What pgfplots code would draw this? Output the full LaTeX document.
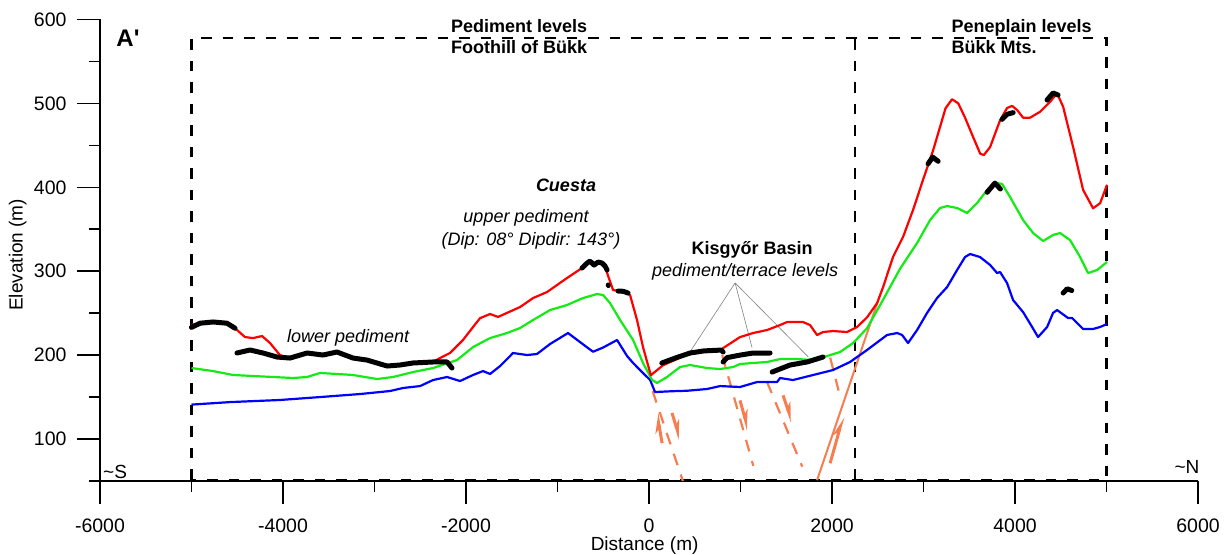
\documentclass[border=0pt]{standalone}
\usepackage{fontspec}
\setmainfont{Liberation Sans}
\usepackage{pgfplots}
\pgfplotsset{compat=1.18}
\usetikzlibrary{arrows.meta}
\definecolor{cred}{RGB}{255,0,0}
\definecolor{cgreen}{RGB}{20,235,20}
\definecolor{cblue}{RGB}{0,0,255}
\definecolor{fault}{RGB}{247,125,80}
\begin{document}
\begin{tikzpicture}
\begin{axis}[
 name=ax, scale only axis, width=1098pt, height=461.5pt,
 xmin=-6000, xmax=6000, ymin=50, ymax=600, clip=false,
 axis x line=bottom, axis y line=left, axis line style={-, line width=1.6pt},
 xtick={-6000,-4000,...,6000}, minor xtick={-5000,-3000,...,5000},
 ytick={100,200,...,600}, minor ytick={50,150,...,550},
 tick align=outside, major tick length=23pt, minor tick length=11pt,
 every tick/.style={black, line width=1.6pt},
 tick label style={font=\fontsize{19.5}{22}\selectfont},
 xticklabel style={yshift=-11pt},
 yticklabel style={xshift=-7pt},
 /pgf/number format/1000 sep={}, /pgf/number format/assume math mode=true,
 xlabel={Distance (m)}, ylabel={Elevation (m)},
 label style={font=\fontsize{19}{22}\selectfont},
 xlabel style={at={(axis description cs:0.496,-0.139)}, anchor=center},
 ylabel style={at={(axis description cs:-0.075,0.49)}, anchor=center},
 black marks/.style={black, line width=5pt, line cap=round, line join=round},
 curve/.style={line width=2.2pt, line join=round},
 boxline/.style={black, line width=2.2pt, dash pattern=on 10.5pt off 11pt},
 faultd/.style={fault, line width=2.2pt, dash pattern=on 12pt off 10pt},
 farrow/.style={fault, line width=3pt, -{Stealth[left, length=16pt, width=10pt]}},
]
% dashed frames
\addplot[boxline] coordinates {(-5000,51.5) (-5000,578) (5000,578) (5000,51.5) (-5000,51.5)};
\addplot[boxline] coordinates {(2250,51.5) (2250,578)};

% annotation lines
\addplot[gray, line width=0.6pt] coordinates {(941,286) (449,204)};
\addplot[gray, line width=0.6pt] coordinates {(941,286) (1126,209)};
\addplot[gray, line width=0.6pt] coordinates {(941,286) (1739,198)};

% faults
\addplot[faultd] coordinates {(40,157) (370,50)};
\addplot[faultd] coordinates {(800,200) (1140,68)};
\addplot[faultd] coordinates {(1290,168) (1675,67)};
\addplot[faultd] coordinates {(1980,197) (2090,150)};
\addplot[fault, line width=2pt] coordinates {(1837,51) (2504,265)};
\addplot[farrow] coordinates {(143,95) (88,131)};
\addplot[farrow] coordinates {(252,131) (339,99)};
\addplot[farrow] coordinates {(995,146) (1083,111)};
\addplot[farrow] coordinates {(1465,152) (1564,120)};
\addplot[farrow] coordinates {(1979,71) (2121,126)};

% blue
\addplot[curve, cblue] coordinates {
(-5000,141) (-4579,144) (-4033,146.5) (-3595,150) (-3158,153.6) (-2830,157.2) (-2688,160.8)
(-2502,163.1) (-2360,170.3) (-2207,173.9) (-2065,169.1) (-1923,176.3) (-1814,181) (-1737,177.5)
(-1628,186.9) (-1486,202.5) (-1333,200.1) (-1224,201.3) (-1082,213.2) (-885,226.3) (-754,215.6)
(-612,204) (-502,209) (-349,218) (-240,199) (-174,190.6) (-60,178) (12,170.4) (66,156) (263,157)
(416,157.5) (634,159.6) (777,163.1) (995,162) (1181,167.9) (1400,167.9) (1432,172.7) (1574,170.3)
(1793,176.3) (2011,182.2) (2197,191.8) (2383,206.1) (2602,224) (2712,226.3) (2766,224) (2831,214.4)
(2930,229.9) (3039,250.3) (3148,268) (3258,281.1) (3367,301.4) (3454,316.9) (3509,320.5) (3618,316.9)
(3728,307.4) (3804,297.8) (3837,299) (3913,285.9) (3979,265.6) (4088,251.3) (4187,233.5) (4252,221.5)
(4351,233.5) (4416,250.3) (4460,253.7) (4580,244.2) (4624,244.2) (4744,231.1) (4853,231.1)
(4930,233.5) (5006,237.1)};

% green
\addplot[curve, cgreen] coordinates {
(-5000,184.6) (-4765,181) (-4546,176.3) (-4328,175.1) (-4109,173.9) (-3890,172.7) (-3737,173.9)
(-3595,178.7) (-3410,177.5) (-3235,176.3) (-2972,171.5) (-2798,173.9) (-2579,179.8) (-2360,184.6)
(-2098,194.1) (-1923,209.6) (-1737,220.3) (-1552,226.3) (-1409,232.3) (-1267,241.8) (-1082,253.7)
(-896,259.7) (-721,268) (-568,272.8) (-502,271.6) (-426,262.1) (-316,241.8) (-174,218) (-65,190.6)
(33,170.4) (88,166.8) (197,173.9) (339,185.8) (449,188.2) (634,184.6) (777,183.4) (919,185.8)
(995,189.4) (1137,190.6) (1290,191.8) (1432,195.3) (1618,195.3) (1793,194.1) (1946,198.9)
(2088,203.7) (2230,214.4) (2383,232) (2558,266) (2744,303) (2930,333.6) (3072,361) (3181,375.3)
(3258,377.7) (3367,375.3) (3476,369.4) (3586,381.3) (3695,396.8) (3804,405.2) (3859,404)
(3946,388.5) (4088,361) (4198,345.5) (4307,336) (4416,343.2) (4493,345.5) (4602,337) (4711,317)
(4799,297.8) (4897,301.4) (5006,311)};

% red
\addplot[curve, cred] coordinates {
(-5000,236) (-4907,238) (-4765,239.5) (-4612,238) (-4524,232) (-4415,221.5) (-4328,220.3)
(-4229,222.7) (-4142,214.4) (-4033,200) (-3923,196.5) (-3737,202) (-3563,200) (-3410,203)
(-3235,196) (-3082,194) (-2863,187) (-2721,188) (-2579,190.6) (-2360,191.8) (-2284,196.5)
(-2175,202.5) (-2033,218) (-1923,233.5) (-1847,244) (-1737,249) (-1650,245.5) (-1552,250.3)
(-1409,257.3) (-1267,268) (-1114,275.2) (-896,291.9) (-732,303.8) (-677,309.7) (-644,312)
(-600,307) (-557,311) (-513,309) (-480,306) (-458,297.8) (-393,277.6) (-283,275.2) (-207,271.6)
(-130,241.4) (-65,209.3) (20,176) (154,188) (300,195) (449,202.5) (600,205) (790,206) (810,208.4)
(995,221.5) (1137,226.3) (1290,229.9) (1432,235.8) (1509,239.4) (1683,239.4) (1760,235.8)
(1837,223.9) (1902,227.5) (2011,228.7) (2164,227.5) (2274,233.5) (2383,245) (2493,262) (2558,281)
(2667,317) (2777,341) (2886,373) (2995,409) (3105,444) (3181,472) (3240,494) (3312,505)
(3380,500) (3454,483) (3542,460) (3620,440) (3660,438.5) (3728,448) (3837,480) (3913,494.5) (3968,497)
(4024,492) (4088,483) (4165,483) (4274,490) (4384,502) (4460,512) (4526,496) (4635,448)
(4744,397) (4853,375) (4930,381) (5006,403)};

% black surfaces
\addplot[black marks] coordinates {(-5000,233) (-4907,238) (-4765,239.5) (-4612,238) (-4524,232)};
\addplot[black marks] coordinates {(-4503,202.5) (-4360,206.1) (-4218,202.5) (-4065,197.7) (-3923,196.5)
 (-3737,202.5) (-3563,200.1) (-3410,203.7) (-3235,196.5) (-3082,194.1) (-2863,187) (-2721,188.2)
 (-2579,190.6) (-2360,191.8) (-2207,191.8) (-2153,184.6)};
\addplot[black marks] coordinates {(-732,303.8) (-677,309.7) (-644,312) (-600,307.3) (-557,310.9) (-513,309.7) (-480,306.1) (-458,301.4)};
\addplot[black marks] coordinates {(-447,283.5) (-445,283)};
\addplot[black marks] coordinates {(-338,276.4) (-280,276) (-229,274)};
\addplot[black marks] coordinates {(140,190.6) (300,197) (449,202.5) (600,205) (790,206) (810,203.7)};
\addplot[black marks] coordinates {(810,191.8) (853,197) (995,200) (1137,202.5) (1323,202.5)};
\addplot[black marks] coordinates {(1345,179.8) (1542,188.2) (1727,191.8) (1902,197.7)};
\addplot[black marks] coordinates {(3050,428) (3100,436) (3160,431)};
\addplot[black marks] coordinates {(3859,481) (3913,487) (3980,489)};
\addplot[black marks] coordinates {(4350,504) (4416,512.4) (4470,510)};
\addplot[black marks] coordinates {(3695,394) (3780,405) (3840,398)};
\addplot[black marks] coordinates {(4526,274) (4570,279) (4620,277)};

% texts
\node[font=\fontsize{24}{26}\selectfont\bfseries] at (axis cs:-5694,578) {A\textquotesingle};
\node[font=\fontsize{18}{21}\selectfont\bfseries, align=center] at (axis cs:-1420,580) {Pediment levels\\Foothill of Bükk};
\node[font=\fontsize{18}{21}\selectfont\bfseries, align=left, anchor=west] at (axis cs:3269,580) {Peneplain levels\\Bükk Mts.};
\node[font=\fontsize{18}{21}\selectfont\bfseries\itshape] at (axis cs:-907,402.7) {Cuesta};
\node[font=\fontsize{18}{21}\selectfont\itshape] at (axis cs:-1344,363.4) {upper pediment};
\node[font=\fontsize{18}{21}\selectfont\itshape] at (axis cs:-1289,336) {(Dip: 08° Dipdir: 143°)};
\node[font=\fontsize{18}{21}\selectfont\itshape] at (axis cs:-3289,220) {lower pediment};
\node[font=\fontsize{18}{21}\selectfont\bfseries] at (axis cs:1126,325.3) {Kisgyőr Basin};
\node[font=\fontsize{18}{21}\selectfont\itshape] at (axis cs:1050,299) {pediment/terrace levels};
\node[font=\fontsize{19}{21}\selectfont] at (axis cs:-5835,61) {\textasciitilde S};
\node[font=\fontsize{19}{21}\selectfont] at (axis cs:5880,66.6) {\textasciitilde N};
\end{axis}
\pgfresetboundingbox
\path ([shift={(-100pt,-74pt)}]ax.south west) rectangle ([shift={(34pt,19.5pt)}]ax.north east);
\end{tikzpicture}
\end{document}
